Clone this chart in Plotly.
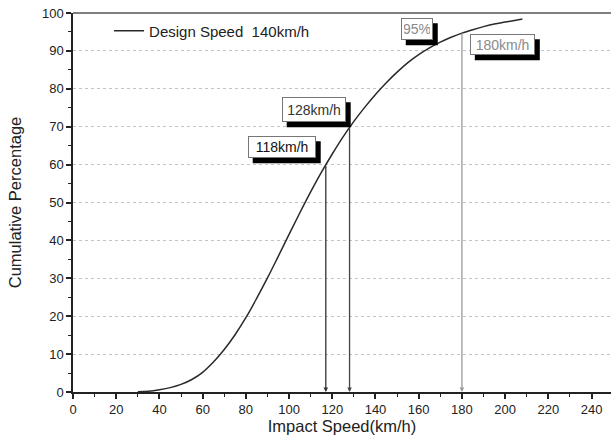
import plotly.graph_objects as go

# ---- data ----
speed = [30, 35, 40, 45, 50, 55, 60, 65, 70, 75, 80, 85, 90, 95, 100, 105, 110, 115,
         120, 125, 130, 135, 140, 145, 150, 155, 160, 165, 170, 175, 180,
         185, 190, 195, 200, 205, 208]
cum_pct = [0.05, 0.2, 0.6, 1.15, 2.0, 3.3, 5.2, 7.9, 11.2, 15.1, 19.6, 24.7, 30.1, 35.8,
           41.6, 47.3, 52.8, 58.0, 62.8, 67.3, 71.4, 75.1, 78.5, 81.6, 84.4, 86.9,
           89.0, 90.8, 92.3, 93.6, 94.7, 95.6, 96.4, 97.1, 97.6, 98.1, 98.4]
series_name = "Design Speed  140km/h"

# marked points: (speed, percentage on curve, line colour)
marks_x = [117, 128, 180]
marks_y = [60, 70, 95]
marks_color = ["#333333", "#444444", "#9a9a9a"]

# callout labels: text, anchor x, anchor y, text colour
label_text = ["118km/h", "128km/h", "95%", "180km/h"]
label_x = [96.6, 111.4, 159.1, 198.7]
label_y = [64.6, 74.5, 95.7, 91.6]
label_color = ["#111111", "#333333", "#8a8a8a", "#8a8a8a"]
label_w = [68, 64, 32, 65]
label_h = [22, 25, 22, 21]

x_ticks = list(range(0, 241, 20))
y_ticks = list(range(0, 101, 10))

font_fam = "Liberation Sans, Arial, sans-serif"

fig = go.Figure()
fig.add_trace(go.Scatter(x=speed, y=cum_pct, mode="lines", name=series_name,
                         line=dict(color="#2a2a2a", width=1.5, shape="spline"),
                         showlegend=True))

annotations = []
shapes = [dict(type="line", xref="paper", yref="paper", x0=0, x1=1, y0=1, y1=1,
               line=dict(color="#555555", width=1.5))]

for xv, yv, c in zip(marks_x, marks_y, marks_color):
    annotations.append(dict(x=xv, y=0, ax=xv, ay=yv, xref="x", yref="y",
                            axref="x", ayref="y", text="", showarrow=True,
                            arrowhead=2, arrowsize=0.7, arrowwidth=1.3,
                            arrowcolor=c))

for t, xv, yv, c, w, h in zip(label_text, label_x, label_y, label_color, label_w, label_h):
    # drop shadow (pixel-sized rectangle anchored at the label position)
    shapes.append(dict(type="rect", xref="x", yref="y",
                       xsizemode="pixel", ysizemode="pixel",
                       xanchor=xv, yanchor=yv,
                       x0=-w / 2 + 5, x1=w / 2 + 5, y0=-h / 2 - 5, y1=h / 2 - 5,
                       fillcolor="black", line=dict(width=0), layer="above"))
    annotations.append(dict(x=xv, y=yv, xref="x", yref="y", text=t, showarrow=False,
                            font=dict(size=14, color=c, family=font_fam),
                            width=w - 6, height=h - 6,
                            bgcolor="white", bordercolor="#777777", borderwidth=1,
                            borderpad=2))

fig.update_layout(
    width=611, height=439,
    margin=dict(l=73, r=0, t=13, b=47, autoexpand=False),
    paper_bgcolor="white", plot_bgcolor="white",
    font=dict(family=font_fam, color="#222222"),
    annotations=annotations,
    shapes=shapes,
    legend=dict(x=0.067, y=0.996, xanchor="left", yanchor="top",
                bgcolor="rgba(0,0,0,0)", font=dict(size=15, color="#222222")),
    xaxis=dict(range=[0, 249], tickmode="array", tickvals=x_ticks,
               ticks="outside", ticklen=5, tickwidth=1.5, tickcolor="#222",
               showline=True, linecolor="#222", linewidth=1.5,
               showgrid=False, zeroline=False,
               tickfont=dict(size=13),
               minor=dict(dtick=10, tick0=0, ticks="outside", ticklen=3,
                          tickwidth=1.2, tickcolor="#222"),
               title=dict(text="Impact Speed(km/h)", font=dict(size=16.5),
                          standoff=2)),
    yaxis=dict(range=[0, 100], tickmode="array", tickvals=y_ticks,
               ticks="outside", ticklen=5, tickwidth=1.5, tickcolor="#222",
               showline=True, linecolor="#222", linewidth=1.5,
               showgrid=True, gridcolor="#c4c4c4", griddash="dot", gridwidth=1,
               zeroline=False, tickfont=dict(size=13),
               minor=dict(dtick=5, tick0=0, ticks="outside", ticklen=3,
                          tickwidth=1.2, tickcolor="#222", showgrid=False),
               title=dict(text="Cumulative Percentage", font=dict(size=16.5),
                          standoff=16)),
)

fig.write_html("out.html", config={"displayModeBar": False},
               post_script="document.body.style.margin='0';document.body.style.padding='0';")
